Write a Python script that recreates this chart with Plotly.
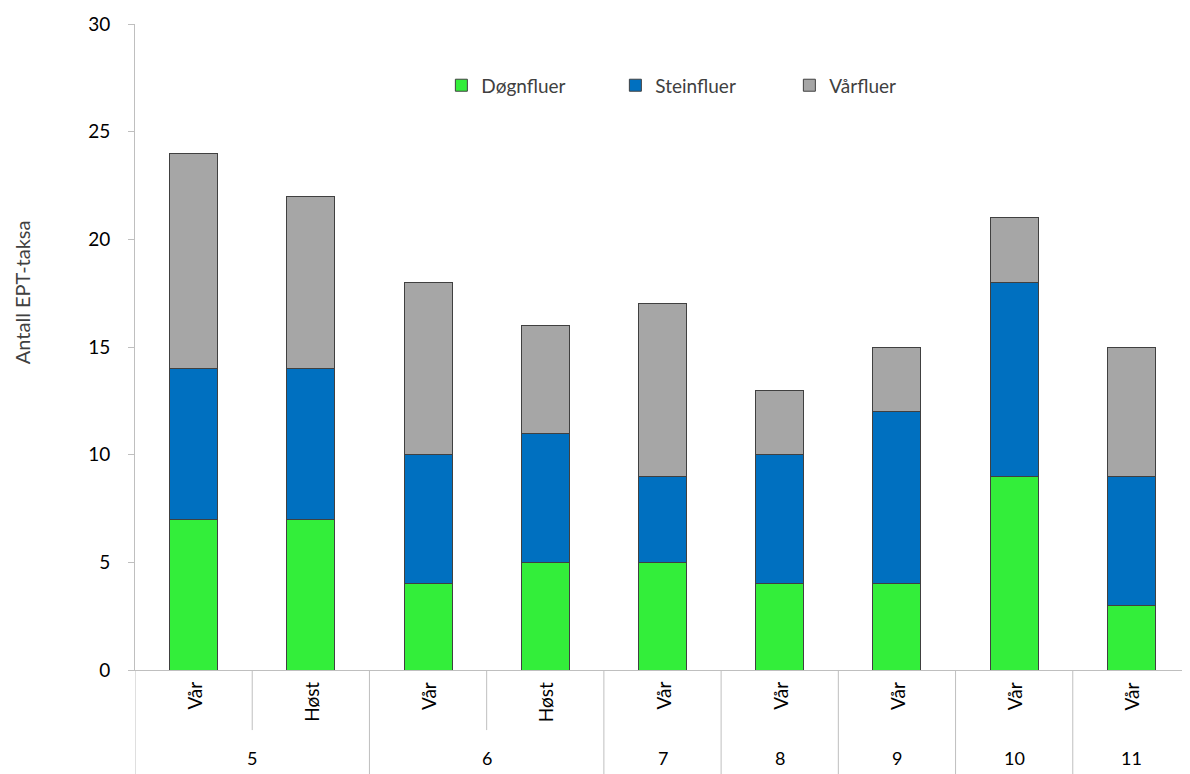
import plotly.graph_objects as go

groups = ["5", "5", "6", "6", "7", "8", "9", "10", "11"]
seasons = ["Vår", "Høst", "Vår", "Høst", "Vår", "Vår", "Vår", "Vår", "Vår"]
dognfluer = [7, 7, 4, 5, 5, 4, 4, 9, 3]
steinfluer = [7, 7, 6, 6, 4, 6, 8, 9, 6]
varfluer = [10, 8, 8, 5, 8, 3, 3, 3, 6]
y_ticks = [0, 5, 10, 15, 20, 25, 30]

cats = [f"{g} {s}" for g, s in zip(groups, seasons)]
FONT = "Lato"
TXT = "#404040"

fig = go.Figure()
for name, vals, col in [("Døgnfluer", dognfluer, "#33EE3A"),
                        ("Steinfluer", steinfluer, "#0070C0"),
                        ("Vårfluer", varfluer, "#A6A6A6")]:
    fig.add_trace(go.Bar(x=cats, y=vals, name=name, width=0.41,
                         marker=dict(color=col, line=dict(color="#404040", width=1))))

# season labels
for c, s in zip(cats, seasons):
    fig.add_annotation(x=c, y=0, xref="x", yref="paper", text=s, textangle=-90,
                       showarrow=False, yanchor="top", xanchor="center", yshift=-10,
                       font=dict(family=FONT, size=19, color="#000000"))

# group labels and dividers
n = len(cats)
starts = []
for i, g in enumerate(groups):
    if i == 0 or groups[i - 1] != g:
        starts.append(i)
bounds = starts + [n]
for k in range(len(starts)):
    a, b = bounds[k], bounds[k + 1]
    fig.add_annotation(x=(a + b - 1) / 2, y=-0.136, xref="x", yref="paper",
                       text=groups[a], showarrow=False, yanchor="middle",
                       font=dict(family=FONT, size=18, color="#000000"))
for i in range(n):
    x = i - 0.5
    full = i in starts
    fig.add_shape(type="line", xref="x", yref="paper", x0=x, x1=x, y0=0,
                  y1=-0.161 if full else -0.093,
                  line=dict(color="#BFBFBF", width=1))

fig.add_annotation(x=-0.107, y=0.585, xref="paper", yref="paper", text="Antall EPT-taksa",
                   textangle=-90, showarrow=False, xanchor="center", yanchor="middle",
                   font=dict(family=FONT, size=20, color=TXT))

fig.update_layout(
    barmode="stack",
    width=1182, height=766,
    margin=dict(l=127, r=0, t=16, b=104),
    plot_bgcolor="white", paper_bgcolor="white",
    font=dict(family=FONT, size=17, color=TXT),
    showlegend=True,
    legend=dict(orientation="h", x=0.2904, y=0.905, xanchor="left", yanchor="middle",
                traceorder="normal", entrywidth=129, entrywidthmode="pixels",
                font=dict(family=FONT, size=19, color=TXT), bgcolor="rgba(0,0,0,0)"),
    bargap=0.59,
)
fig.update_xaxes(range=[-0.5, n - 0.5], showticklabels=False, ticks="",
                 showline=True, linecolor="#BFBFBF", linewidth=1, showgrid=False,
                 zeroline=False, fixedrange=True)
fig.update_yaxes(range=[0, 30], tickvals=y_ticks, ticks="outside", ticklen=6,
                 tickcolor="#BFBFBF", showline=True, linecolor="#BFBFBF", linewidth=1,
                 showgrid=False, zeroline=False, ticklabelstandoff=14,
                 tickfont=dict(family=FONT, size=19, color="#000000"))

fig.write_html("out.html")
